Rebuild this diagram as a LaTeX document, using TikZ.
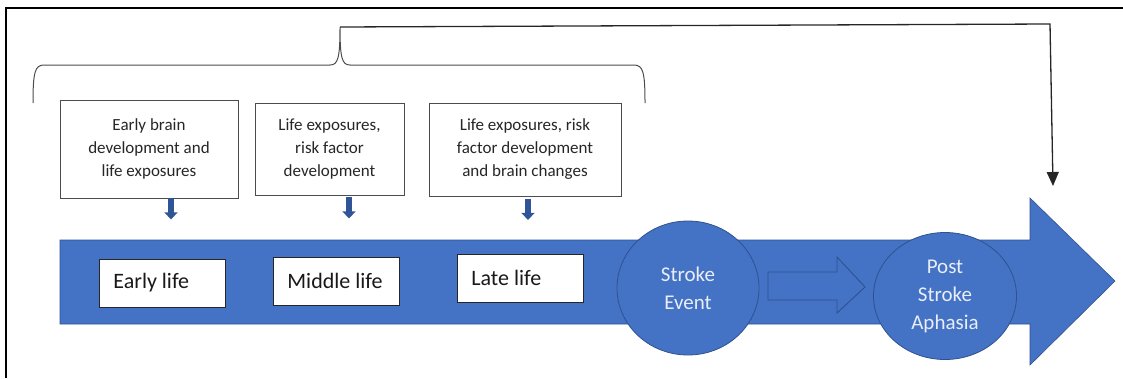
\documentclass[tikz,border=0pt]{standalone}
\usepackage{fontspec}
\setmainfont{Carlito}
\usetikzlibrary{arrows.meta,shapes.geometric}

\definecolor{bandblue}{HTML}{4472C4}
\definecolor{edgeblue}{HTML}{2F528F}
\definecolor{arrblue}{HTML}{2F5597}

\newcommand{\lefttext}[1]{\makebox[98pt][l]{#1}}

\tikzstyle{stage} = [draw=black!70, line width=0.8pt, align=center, inner sep=0pt, text=black!85, font=\fontsize{17}{23}\selectfont]
\tikzstyle{period} = [draw=black!85, fill=white, line width=0.8pt, anchor=west, inner xsep=14pt, inner ysep=0pt, minimum height=48pt, text=black!90, font=\fontsize{22}{26}\selectfont]
\tikzstyle{event} = [ellipse, draw=edgeblue, fill=bandblue, line width=0.8pt, inner sep=0pt, align=center, text=white!88!bandblue, font=\fontsize{21}{28}\selectfont]
\tikzstyle{downarr} = [draw=arrblue, line width=6pt, -{Triangle[width=13pt,length=7pt]}]

\begin{document}
\begin{tikzpicture}[x=1pt,y=-1pt]
\useasboundingbox (0,0) rectangle (1123,378);
\draw[line width=2.5pt] (6,378) -- (6,8) -- (1123,8);

\draw[black!70, line width=1pt] (33,103) .. controls (33,72) and (35,65) .. (44,65) -- (330,65)
	.. controls (338,65) and (340,58) .. (340,27)
	.. controls (340,58) and (342,65) .. (350,65) -- (634,65)
	.. controls (643,65) and (645,72) .. (645,103);

\node [stage, minimum width=178pt, minimum height=98pt] (ebox) at (149,149)
	{Early brain\\development and\\life exposures};
\node [stage, minimum width=149pt, minimum height=92pt] (mbox) at (329.5,149)
	{Life exposures,\\risk factor\\development};
\node [stage, minimum width=192pt, minimum height=93pt] (lbox) at (525,149.5)
	{Life exposures, risk\\factor development\\and brain changes};

\draw[downarr] ([xshift=22pt]ebox.south) -- ++(0,21);
\draw[downarr] ([xshift=19.5pt,yshift=-2pt]mbox.south) -- ++(0,21);
\draw[downarr] ([xshift=3pt,yshift=-2.5pt]lbox.south) -- ++(0,21);

\draw[fill=bandblue, draw=edgeblue, line width=0.6pt] (60,240) -- (1030,240) -- (1030,198) -- (1115,281)
	-- (1030,365) -- (1030,324) -- (60,324) -- cycle;

\node [period] (early) at (99,283) {\lefttext{Early life}};
\node [period] (middle) at (273,281) {\lefttext{Middle life}};
\node [period] (late) at (457,278) {\lefttext{Late life}};

\node [event, minimum width=142pt, minimum height=134pt] (stroke) at (688,288) {Stroke\\Event};
\node [event, minimum width=143pt, minimum height=127pt] (aphasia) at (945,296) {Post\\Stroke\\Aphasia};

\draw[fill=bandblue, draw=edgeblue, line width=0.9pt] (768,272) -- (837,272) -- (837,257) -- (865,287)
	-- (837,313) -- (837,300) -- (768,300) -- cycle;

\coordinate (bracetip) at (340,27);
\coordinate (turn) at (1050,24);
\coordinate (target) at (1053,186);
\draw[black!85, line width=1.3pt, -{Triangle[width=12pt,length=14pt]}] (bracetip) -- (turn) -- (target);
\end{tikzpicture}
\end{document}
